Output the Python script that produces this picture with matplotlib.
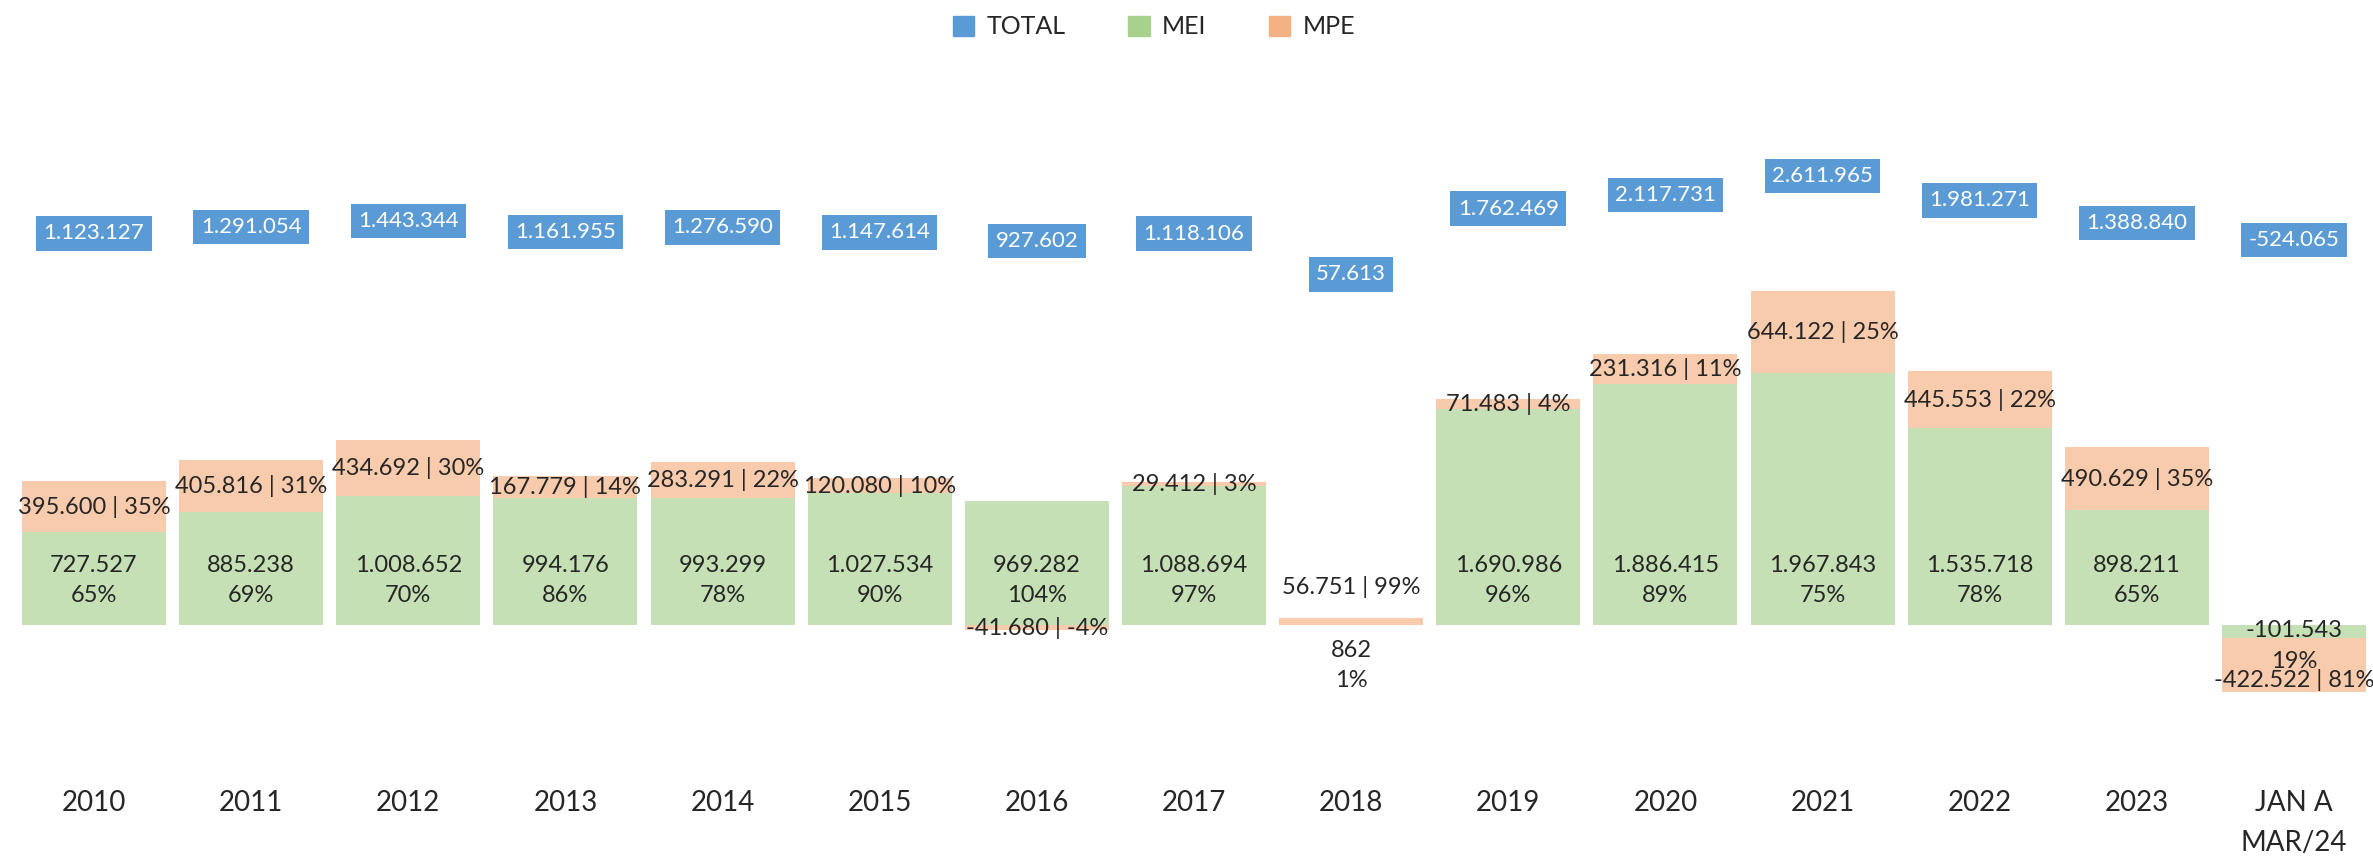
import numpy as np
import matplotlib
matplotlib.use("Agg")
import matplotlib.pyplot as plt
from matplotlib.patches import Patch

# ========== dados ==========
anos = ["2010", "2011", "2012", "2013", "2014", "2015", "2016", "2017",
        "2018", "2019", "2020", "2021", "2022", "2023", "JAN A\nMAR/24"]
mei = [727527, 885238, 1008652, 994176, 993299, 1027534, 969282, 1088694,
       862, 1690986, 1886415, 1967843, 1535718, 898211, -101543]
mpe = [395600, 405816, 434692, 167779, 283291, 120080, -41680, 29412,
       56751, 71483, 231316, 644122, 445553, 490629, -422522]
total = [1123127, 1291054, 1443344, 1161955, 1276590, 1147614, 927602, 1118106,
         57613, 1762469, 2117731, 2611965, 1981271, 1388840, -524065]
# ===========================

plt.rcParams["font.family"] = ["Lato", "DejaVu Sans"]

AZUL = "#5B9BD5"
VERDE = "#A9D18E"
LARANJA = "#F4B183"
VERDE_CLARO = "#C5E0B4"
LARANJA_CLARO = "#F8CBAD"
TXT = "#262626"


def fmt(v):
    return f"{v:,}".replace(",", ".")


mei_a = np.array(mei)
mpe_a = np.array(mpe)
tot_a = np.array(total)
pct_mei = np.round(mei_a / tot_a * 100).astype(int)
pct_mpe = np.round(mpe_a / tot_a * 100).astype(int)
x = np.arange(len(anos))

# colunas empilhadas (negativos empilham abaixo de zero, como no Excel)
base_mpe = np.where(mpe_a < 0, np.minimum(mei_a, 0), np.maximum(mei_a, 0))

fig = plt.figure(figsize=(23.73, 8.58), dpi=100)
ax = fig.add_axes([0, 0.0967, 1, 0.9033])
ax.bar(x, mei_a, width=0.916, color=VERDE_CLARO, linewidth=0)
ax.bar(x, mpe_a, width=0.916, bottom=base_mpe, color=LARANJA_CLARO, linewidth=0)

ax.set_xlim(-0.598, 14.503)
ax.set_ylim(-1.1719e6, 4.8828e6)
for s in ax.spines.values():
    s.set_visible(False)
ax.set_yticks([])
ax.set_xticks(x, anos)
ax.tick_params(axis="x", length=0, pad=11, labelsize=20, labelcolor=TXT)
for t in ax.get_xticklabels():
    t.set_linespacing(1.65)

# ajustes manuais de rótulos (pontos)
desloc_mei = {8: -29, 14: -15}
desloc_mpe = {8: 22, 14: -11}

for i in x:
    # MEI: base interna
    off = desloc_mei.get(i, 32 if mei_a[i] >= 0 else -15)
    ax.annotate(f"{fmt(mei_a[i])}\n{pct_mei[i]}%", (i, 0), xytext=(0, off),
                textcoords="offset points", ha="center", va="center",
                fontsize=17, color=TXT, linespacing=1.55)
    # MPE: centro do segmento
    topo = base_mpe[i] + mpe_a[i]
    y = (base_mpe[i] + topo) / 2
    off = 0
    if i in desloc_mpe:
        y = topo if desloc_mpe[i] > 0 else y
        off = desloc_mpe[i]
    ax.annotate(f"{fmt(mpe_a[i])} | {pct_mpe[i]}%", (i, y), xytext=(0, off),
                textcoords="offset points", ha="center", va="center",
                fontsize=17, color=TXT)

# TOTAL no eixo secundário (só rótulos)
ax2 = ax.twinx()
ax2.set_ylim(-12.923e6, 7.176e6)
ax2.axis("off")
pos_total = np.where(tot_a < 0, 0.952e6, tot_a)
ax2.plot(x, pos_total, alpha=0)
for i in x:
    ax2.text(i, pos_total[i], fmt(tot_a[i]), ha="center", va="center",
             fontsize=16, color="white",
             bbox=dict(boxstyle="square,pad=0.33", fc=AZUL, ec="none"))

handles = [Patch(color=AZUL, label="TOTAL"), Patch(color=VERDE, label="MEI"),
           Patch(color=LARANJA, label="MPE")]
leg = fig.legend(handles=handles, loc="center", ncol=3, frameon=False,
                 bbox_to_anchor=(1154 / 2373, 1 - 27 / 858), fontsize=18,
                 handlelength=0.85, handleheight=0.85, handletextpad=0.5,
                 columnspacing=2.5)
for t in leg.get_texts():
    t.set_color(TXT)

plt.savefig("out.png", dpi=100)
